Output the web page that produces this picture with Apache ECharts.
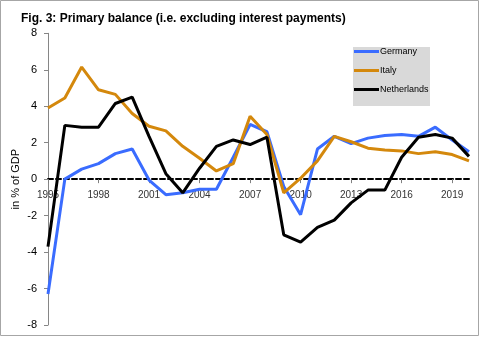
<!DOCTYPE html>
<html>
<head>
<meta charset="utf-8">
<script src="https://cdn.jsdelivr.net/npm/echarts@6/dist/echarts.min.js"></script>
<style>
html,body{margin:0;padding:0;background:#fff;}
#chart{width:480px;height:337px;}
</style>
</head>
<body>
<div id="chart"></div>
<script>
const years = ['1995','1996','1997','1998','1999','2000','2001','2002','2003','2004','2005','2006','2007','2008','2009','2010','2011','2012','2013','2014','2015','2016','2017','2018','2019','2020'];
const germany = [-6.3, 0.0, 0.55, 0.85, 1.4, 1.65, -0.05, -0.85, -0.75, -0.55, -0.55, 1.2, 3.0, 2.6, -0.4, -1.95, 1.65, 2.35, 1.95, 2.25, 2.4, 2.45, 2.35, 2.85, 2.15, 1.5];
const italy = [3.9, 4.45, 6.15, 4.9, 4.65, 3.6, 2.9, 2.65, 1.8, 1.15, 0.45, 0.85, 3.45, 2.45, -0.75, 0.05, 1.0, 2.35, 2.05, 1.7, 1.6, 1.55, 1.4, 1.5, 1.35, 1.0];
const netherlands = [-3.7, 2.95, 2.85, 2.85, 4.15, 4.5, 2.35, 0.3, -0.75, 0.6, 1.8, 2.15, 1.9, 2.3, -3.05, -3.45, -2.65, -2.25, -1.3, -0.6, -0.6, 1.2, 2.3, 2.45, 2.25, 1.25];
const yTicks = {min: -8, max: 8, interval: 2};

const gridTop = 33.3, gridBottomPx = 325;
const zeroY = gridTop + (yTicks.max / (yTicks.max - yTicks.min)) * (gridBottomPx - gridTop);

const chart = echarts.init(document.getElementById('chart'));
const font = '"Liberation Sans", Arial, sans-serif';
function line(name, data, color) {
  return {name, type: 'line', data, symbol: 'none', smooth: false,
    lineStyle: {color, width: 3}, itemStyle: {color}, z: name === 'Netherlands' ? 4 : 3};
}
chart.setOption({
  animation: false,
  backgroundColor: '#fff',
  title: {
    text: 'Fig. 3: Primary balance (i.e. excluding interest payments)',
    left: 16, top: 8,
    textStyle: {fontFamily: font, fontSize: 12, fontWeight: 'bold', color: '#000'}
  },
  graphic: [
    {type: 'rect', shape: {x: 0.5, y: 0.5, width: 478, height: 335}, style: {fill: 'none', stroke: '#a6a6a6', lineWidth: 1}, z: 0},
    {type: 'rect', shape: {x: 353, y: 47, width: 77, height: 59}, style: {fill: '#d9d9d9'}, z: 0}
  ],
  legend: {
    orient: 'vertical', left: 354, top: 47, padding: 0, itemGap: 10,
    itemWidth: 25, itemHeight: 3, icon: 'rect',
    textStyle: {fontFamily: font, fontSize: 9, color: '#000', padding: [0, 0, 0, -4]},
    data: ['Germany', 'Italy', 'Netherlands']
  },
  grid: {left: 48, right: 11, top: gridTop, bottom: 337 - gridBottomPx, containLabel: false, outerBoundsMode: 'none'},
  xAxis: {
    type: 'category', data: years, boundaryGap: false,
    position: 'bottom', offset: -(gridBottomPx - zeroY),
    axisLine: {onZero: false, lineStyle: {color: '#000', width: 2, type: [5, 3]}},
    axisTick: {show: true, interval: 2, length: 4, lineStyle: {color: '#808080', width: 1}},
    axisLabel: {interval: 2, margin: 11, fontFamily: font, fontSize: 10, color: '#333'},
    splitLine: {show: false}
  },
  yAxis: {
    type: 'value', min: yTicks.min, max: yTicks.max, interval: yTicks.interval,
    name: 'in % of GDP', nameLocation: 'middle', nameGap: 27, nameRotate: 90,
    nameMoveOverlap: false,
    nameTextStyle: {fontFamily: font, fontSize: 11, color: '#000'},
    axisLine: {show: true, lineStyle: {color: '#868686', width: 1}},
    axisTick: {show: true, length: 4, lineStyle: {color: '#868686'}},
    axisLabel: {margin: 11, fontFamily: font, fontSize: 11, color: '#000'},
    splitLine: {show: false}
  },
  series: [
    line('Germany', germany, '#3a6cff'),
    line('Italy', italy, '#d4880c'),
    line('Netherlands', netherlands, '#000000')
  ]
});
</script>
</body>
</html>
